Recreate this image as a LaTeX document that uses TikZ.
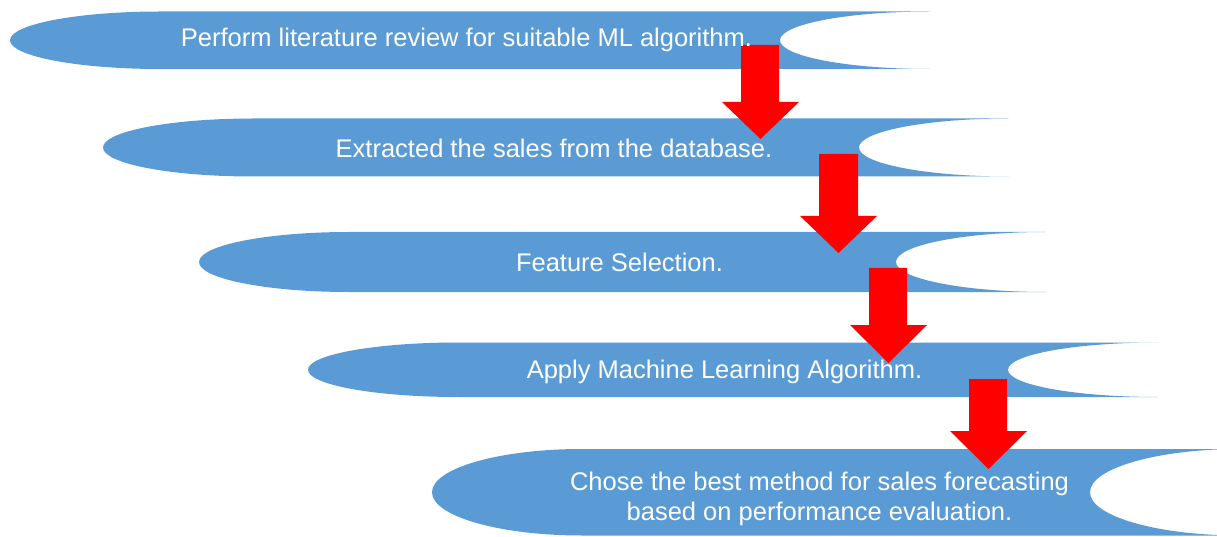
\documentclass[tikz,border=0pt]{standalone}
\usepackage{fontspec}
\setmainfont{Liberation Sans}
\definecolor{bandblue}{HTML}{5B9BD5}
\definecolor{arrowred}{HTML}{FF0000}
\tikzset{
  band/.style={fill=bandblue, draw=none},
  redarrow/.style={fill=arrowred, draw=none},
  label/.style={text=white, font=\fontsize{25.5}{30}\selectfont, align=center, inner sep=0pt},
}
% band: left tip, right end, top y, bottom y (pixel coords, y downward)
\newcommand{\bandshape}[4]{%
  \pgfmathsetmacro{\Yt}{536-#3}%
  \pgfmathsetmacro{\Yb}{536-#4}%
  \pgfmathsetmacro{\hh}{(#4-#3)/2}%
  \pgfmathsetmacro{\Lc}{#1+150}%
  \fill[band] (\Lc pt,\Yt pt) -- (#2pt,\Yt pt)
    arc[start angle=90, end angle=270, x radius=150pt, y radius=\hh pt]
    -- (\Lc pt,\Yb pt)
    arc[start angle=270, end angle=90, x radius=150pt, y radius=\hh pt] -- cycle;%
}
% arrow: shaft left, shaft right, top, head y, head left, head right, tip y
\newcommand{\blockarrow}[7]{%
  \pgfmathsetmacro{\tipx}{(#5+#6)/2}%
  \fill[redarrow] (#1pt,{(536-#3)*1pt}) -- (#2pt,{(536-#3)*1pt}) -- (#2pt,{(536-#4)*1pt})
    -- (#6pt,{(536-#4)*1pt}) -- (\tipx pt,{(536-#7)*1pt}) -- (#5pt,{(536-#4)*1pt})
    -- (#1pt,{(536-#4)*1pt}) -- cycle;%
}
\begin{document}
\begin{tikzpicture}[x=1pt,y=1pt]
\useasboundingbox (0,0) rectangle (1217,536);
\clip (0,0) rectangle (1217,536);
\bandshape{10}{930}{11.5}{69}
\bandshape{103}{1009}{118.5}{176.5}
\bandshape{199}{1046}{232}{292}
\bandshape{308}{1158}{342.5}{397}
\bandshape{432}{1240}{449}{535.5}

\blockarrow{741}{779}{45}{102}{722}{799}{139}
\blockarrow{819}{858}{154}{216}{800}{877}{253}
\blockarrow{869}{907}{268}{325}{850}{927}{363}
\blockarrow{969}{1007}{379}{431}{950}{1027}{469}

\node[label] (t1) at (466.5,{536-40}) {Perform literature review for suitable ML algorithm.};
\node[label] (t2) at (554,{536-148}) {Extracted the sales from the database.};
\node[label] (t3) at (619.5,{536-262}) {Feature Selection.};
\node[label] (t4) at (724.5,{536-372}) {Apply Machine Learning Algorithm.};
\node[label] (t5) at (819.5,{536-499}) {Chose the best method for sales forecasting\\based on performance evaluation.};
\end{tikzpicture}
\end{document}
